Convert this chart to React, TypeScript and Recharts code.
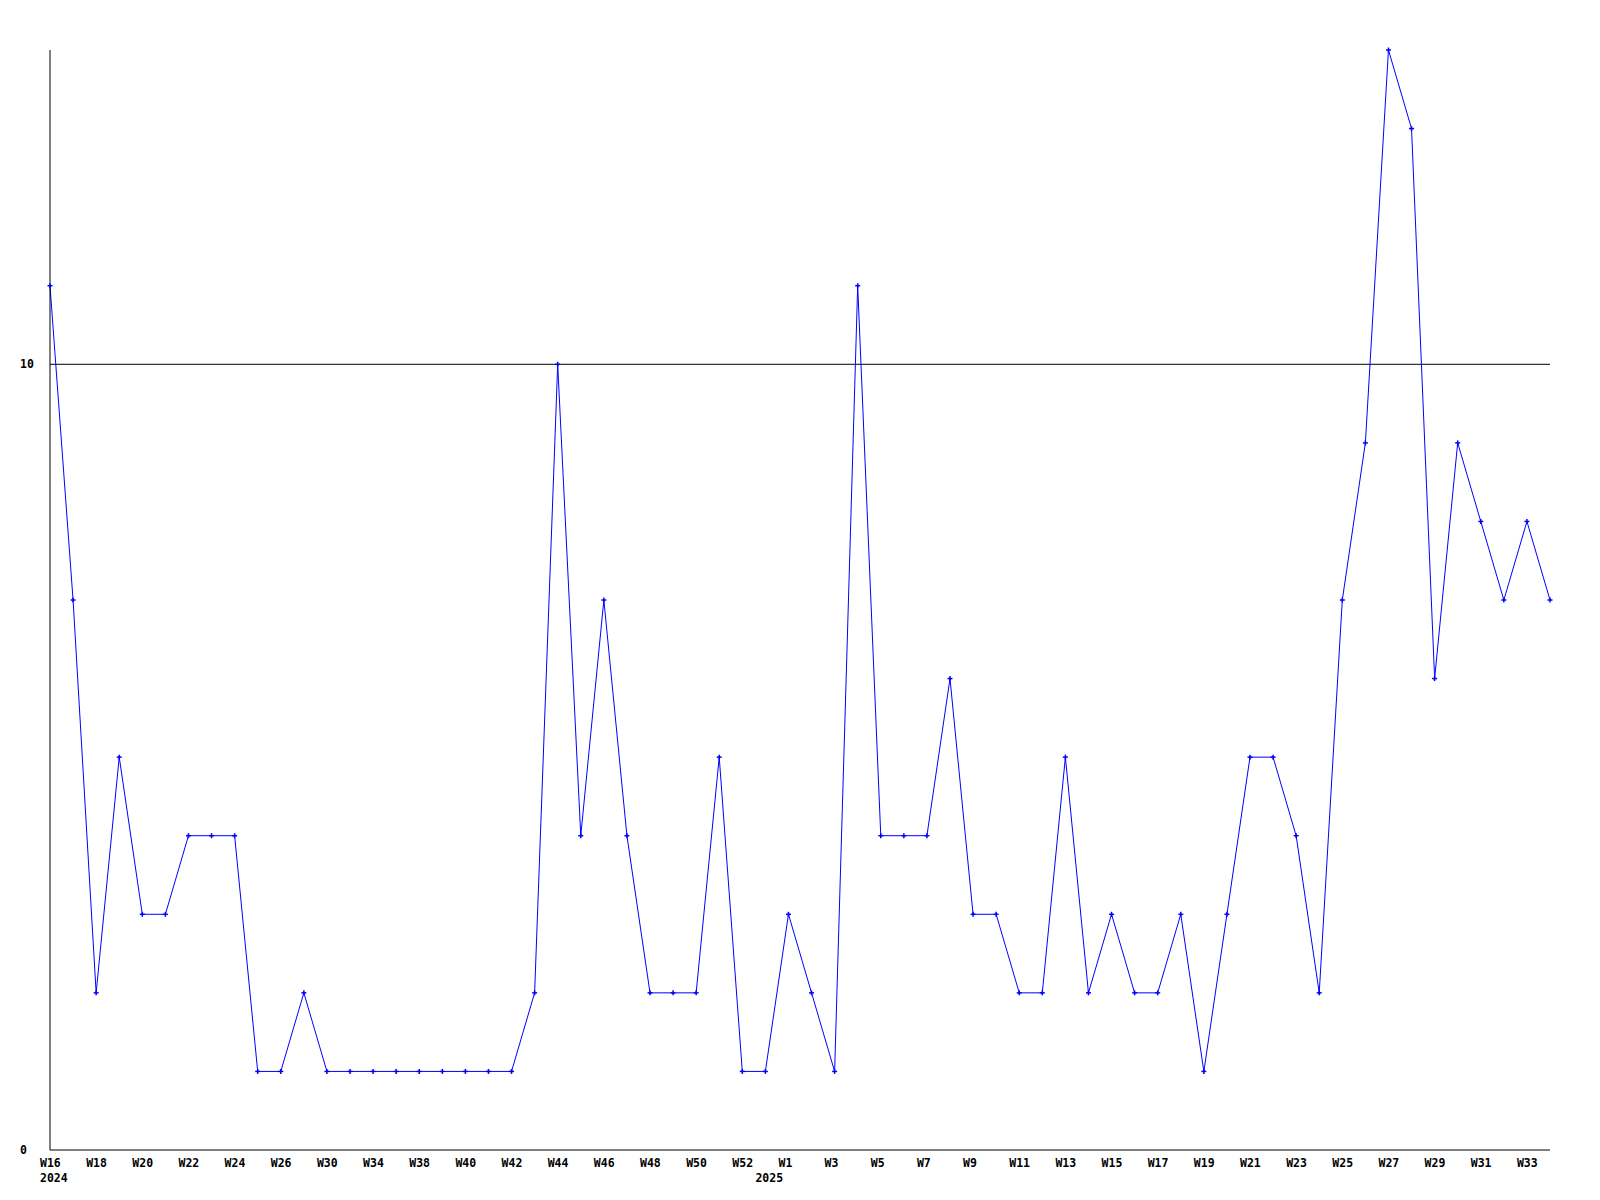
import React from 'react';
import { LineChart, Line, XAxis, YAxis, ReferenceLine } from 'recharts';

const weeks: string[] = [
  'W16', 'W17', 'W18', 'W19', 'W20', 'W21', 'W22', 'W23', 'W24', 'W25', 'W26', 'W28', 'W30', 'W32', 'W34', 'W36',
  'W38', 'W39', 'W40', 'W41', 'W42', 'W43', 'W44', 'W45', 'W46', 'W47', 'W48', 'W49', 'W50', 'W51', 'W52', 'W53',
  'W1', 'W2', 'W3', 'W4', 'W5', 'W6', 'W7', 'W8', 'W9', 'W10', 'W11', 'W12', 'W13', 'W14', 'W15', 'W16b',
  'W17', 'W18', 'W19', 'W20', 'W21', 'W22', 'W23', 'W24', 'W25', 'W26', 'W27', 'W28', 'W29', 'W30', 'W31', 'W32',
  'W33', 'W34',
];

const values: number[] = [
  11, 7, 2, 5, 3, 3, 4, 4, 4, 1, 1, 2, 1, 1, 1, 1,
  1, 1, 1, 1, 1, 2, 10, 4, 7, 4, 2, 2, 2, 5, 1, 1,
  3, 2, 1, 11, 4, 4, 4, 6, 3, 3, 2, 2, 5, 2, 3, 2,
  2, 3, 1, 3, 5, 5, 4, 2, 7, 9, 14, 13, 6, 9, 8, 7,
  8, 7,
];

const yearLabels: Record<number, string> = { 0: '2024', 31: '2025' };

const yTicks: number[] = [0, 10];

const data = weeks.map((w, i) => ({ key: i, week: w.replace('b', ''), value: values[i] }));

const FONT = '"DejaVu Sans Mono", monospace';

const XTick = (props: any) => {
  const { x, y, payload } = props;
  const idx = payload.index;
  const label = data[idx] ? data[idx].week : '';
  const showWeek = idx % 2 === 0 && idx < data.length - 1;
  const year = yearLabels[idx];
  return (
    <g>
      {showWeek && (
        <text x={x - 10} y={y + 17} textAnchor="start" fontFamily={FONT} fontWeight="bold" fontSize={11.5} fill="#000">
          {label}
        </text>
      )}
      {year && (
        <text x={x - 10} y={y + 32} textAnchor="start" fontFamily={FONT} fontWeight="bold" fontSize={11.5} fill="#000">
          {year}
        </text>
      )}
    </g>
  );
};

const YTick = (props: any) => {
  const { y, payload } = props;
  return (
    <text x={20} y={y + 4} textAnchor="start" fontFamily={FONT} fontWeight="bold" fontSize={11.5} fill="#000">
      {payload.value}
    </text>
  );
};

const Dot = (props: any) => {
  const { cx, cy } = props;
  if (cx == null || cy == null) return null;
  return (
    <g>
      <line x1={cx - 2.5} y1={cy} x2={cx + 2.5} y2={cy} stroke="#0000ff" strokeWidth={1.5} />
      <line x1={cx} y1={cy - 2.5} x2={cx} y2={cy + 2.5} stroke="#0000ff" strokeWidth={1.5} />
    </g>
  );
};

export default function App() {
  return (
    <div style={{ position: 'absolute', left: 0, top: 0, width: 1600, height: 1200, background: '#fff' }}>
      <LineChart width={1600} height={1200} data={data} margin={{ top: 50, right: 50, bottom: 0, left: 0 }}>
        <XAxis
          dataKey="key"
          type="category"
          scale="point"
          padding={{ left: 0, right: 0 }}
          interval={0}
          height={50}
          tickLine={false}
          tickSize={0}
          tickMargin={0}
          axisLine={{ stroke: '#000', strokeWidth: 1 }}
          tick={<XTick />}
        />
        <YAxis
          width={50}
          domain={[0, 14]}
          ticks={yTicks}
          tickLine={false}
          tickSize={0}
          tickMargin={0}
          axisLine={{ stroke: '#000', strokeWidth: 1 }}
          tick={<YTick />}
        />
        <ReferenceLine y={10} stroke="#000" strokeWidth={1} />
        <Line
          type="linear"
          dataKey="value"
          stroke="#0000ff"
          strokeWidth={1}
          dot={<Dot />}
          activeDot={false}
          isAnimationActive={false}
        />
      </LineChart>
    </div>
  );
}
